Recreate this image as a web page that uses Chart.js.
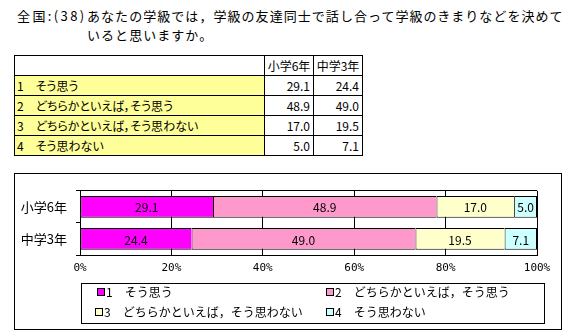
<!DOCTYPE html>
<html>
<head>
<meta charset="utf-8">
<script src="https://cdn.jsdelivr.net/npm/chart.js@4"></script>
<style>
  html, body { margin: 0; padding: 0; background: #fff; }
  body { width: 566px; height: 333px; position: relative; overflow: hidden;
         font-family: 'Noto Sans CJK JP', sans-serif; color: #000; }
  .abs { position: absolute; white-space: nowrap; }
  .title { font-size: 13px; line-height: 20px; letter-spacing: 1.05px; }
  .cell { position: absolute; box-sizing: border-box; border: 1px solid #000;
          font-size: 12px; line-height: 19px; white-space: nowrap; }
  .cell.label { background: #ffff99; padding-left: 2px; font-feature-settings: 'palt'; }
  .cell.head { text-align: center; }
  .cell.num { text-align: right; padding-right: 3px; }
  #frame { position: absolute; left: 14px; top: 173px; width: 548px; height: 157px;
           box-sizing: border-box; border: 1px solid #000; }
  #frame canvas { position: absolute; left: 0; top: 0; }
  #legend { position: absolute; left: 81px; top: 283px; width: 464px; height: 41px;
            box-sizing: border-box; border: 1px solid #000; font-size: 12px; }
  .item { position: absolute; white-space: nowrap; line-height: 14px; }
  .swatch { display: inline-block; width: 6px; height: 6px; border: 1px solid #000;
            margin-right: 1px; vertical-align: 1px; }
</style>
</head>
<body>
<div class="abs title" style="left:17px; top:6px; letter-spacing:2.4px;">全国:(38)</div>
<div class="abs title" style="left:87px; top:6px;">あなたの学級では，学級の友達同士で話し合って学級のきまりなどを決めて</div>
<div class="abs title" style="left:87px; top:25px;">いると思いますか。</div>

<div id="table"></div>

<div id="frame"><canvas id="chart" width="546" height="155"></canvas></div>
<div id="legend"></div>

<script>
// survey answers (%)
const categories = ['小学6年', '中学3年'];
const answers = ['1　そう思う', '2　どちらかといえば，そう思う', '3　どちらかといえば，そう思わない', '4　そう思わない'];
const elementary6 = [29.1, 48.9, 17.0, 5.0];
const juniorHigh3 = [24.4, 49.0, 19.5, 7.1];
const xTicks = [0, 20, 40, 60, 80, 100];
const colors = ['#ff00ff', '#ff99cc', '#ffffcc', '#ccffff'];

// ---- summary table ----
const table = document.getElementById('table');
const colX = [14, 264, 313, 362];
const rowY = 55, rowH = 20;

function addCell(cls, text, col, row) {
  const d = document.createElement('div');
  d.className = 'cell ' + cls;
  d.style.left = colX[col] + 'px';
  d.style.top = (rowY + row * rowH) + 'px';
  d.style.width = (colX[col + 1] - colX[col] + 1) + 'px';
  d.style.height = (rowH + 1) + 'px';
  d.textContent = text;
  table.appendChild(d);
}

addCell('', '', 0, 0);
addCell('head', categories[0], 1, 0);
addCell('head', categories[1], 2, 0);
answers.forEach((a, i) => {
  addCell('label', a, 0, i + 1);
  addCell('num', elementary6[i].toFixed(1), 1, i + 1);
  addCell('num', juniorHigh3[i].toFixed(1), 2, i + 1);
});

// ---- stacked bar chart ----
Chart.defaults.font.family = "'Noto Sans CJK JP', sans-serif";
Chart.defaults.font.size = 12;
Chart.defaults.color = '#000';

const valueLabels = {
  id: 'valueLabels',
  afterDatasetsDraw(chart) {
    const ctx = chart.ctx;
    ctx.save();
    ctx.font = "12px 'Noto Sans CJK JP', sans-serif";
    ctx.fillStyle = '#000';
    ctx.textAlign = 'center';
    ctx.textBaseline = 'middle';
    chart.data.datasets.forEach((ds, i) => {
      chart.getDatasetMeta(i).data.forEach((bar, j) => {
        const p = bar.getProps(['x', 'y', 'base'], true);
        ctx.fillText(ds.data[j].toFixed(1), (p.x + p.base) / 2, p.y + 1);
      });
    });
    ctx.restore();
  }
};

// neighbouring segments share one 1px edge, only the last one closes on the right
const last = answers.length - 1;
const datasets = answers.map((a, i) => ({
  label: a,
  data: [elementary6[i], juniorHigh3[i]],
  backgroundColor: colors[i],
  borderColor: '#000',
  borderWidth: { left: 1, top: 1, bottom: 1, right: i === last ? 1 : 0 },
  borderSkipped: false,
  categoryPercentage: 1,
  barPercentage: 0.68
}));

const chart = new Chart(document.getElementById('chart'), {
  type: 'bar',
  data: { labels: categories, datasets: datasets },
  options: {
    indexAxis: 'y',
    responsive: false,
    animation: false,
    layout: { padding: { left: 0, top: 9, right: 24, bottom: 0 } },
    plugins: { legend: { display: false }, tooltip: { enabled: false } },
    scales: {
      x: {
        stacked: true,
        min: 0,
        max: 100,
        afterBuildTicks(scale) { scale.ticks = xTicks.map(v => ({ value: v })); },
        afterFit(scale) { scale.height = 74; },
        ticks: {
          padding: 7,
          maxRotation: 0,
          font: { family: "'DejaVu Sans Mono', monospace", size: 11 },
          callback: v => v + '%'
        },
        grid: { color: '#000', drawTicks: false },
        border: { color: '#000' }
      },
      y: {
        stacked: true,
        afterFit(scale) { scale.width = 65; },
        ticks: { padding: 9, font: { size: 13 } },
        grid: {
          offset: true,
          tickLength: 4,
          tickColor: '#000',
          color: ctx => (ctx.index === 1 ? 'rgba(0,0,0,0)' : '#000')
        },
        border: { color: '#000' }
      }
    }
  },
  plugins: [valueLabels]
});

// ---- legend box ----
const legend = document.getElementById('legend');
const legendPos = [[15, 1], [244, 1], [13, 21], [244, 21]];
chart.data.datasets.forEach((ds, i) => {
  const it = document.createElement('div');
  it.className = 'item';
  it.style.left = legendPos[i][0] + 'px';
  it.style.top = legendPos[i][1] + 'px';
  const sw = document.createElement('span');
  sw.className = 'swatch';
  sw.style.background = ds.backgroundColor;
  it.appendChild(sw);
  it.appendChild(document.createTextNode(ds.label));
  legend.appendChild(it);
});
</script>
</body>
</html>
